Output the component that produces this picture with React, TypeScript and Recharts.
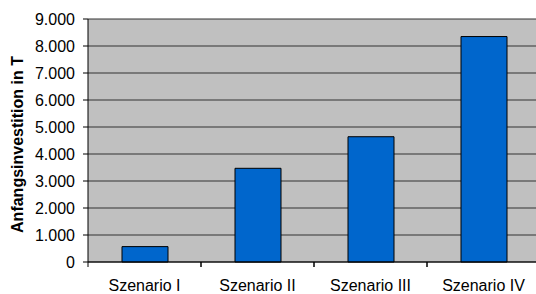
import { BarChart, Bar, XAxis, YAxis, CartesianGrid, Label } from "recharts";

const szenarien = ["Szenario I", "Szenario II", "Szenario III", "Szenario IV"];
const investition = [570, 3470, 4640, 8350];
const yTicks = [0, 1000, 2000, 3000, 4000, 5000, 6000, 7000, 8000, 9000];

const chartData = szenarien.map((name, i) => ({ name, value: investition[i] }));

const CHART_W = 545;
const AXIS_W = 88;
const RIGHT = 5;
const FONT = "'Liberation Sans', Arial, sans-serif";

// German thousands separator: 9000 -> 9.000
const fmt = (v: number) => String(v).replace(/\B(?=(\d{3})+(?!\d))/g, ".");

function CategoryTick(props: any) {
  const { x, y, payload } = props;
  const band = (CHART_W - AXIS_W - RIGHT) / szenarien.length;
  const axisY = 262;
  return (
    <g>
      {/* Excel style: tick marks sit between categories */}
      <line x1={x - band / 2} x2={x - band / 2} y1={axisY} y2={axisY + 5} stroke="#000" />
      <line x1={x + band / 2} x2={x + band / 2} y1={axisY} y2={axisY + 5} stroke="#000" />
      <text x={x} y={axisY + 29} textAnchor="middle" fontSize={16} fontFamily={FONT} fill="#000">
        {payload.value}
      </text>
    </g>
  );
}

export default function App() {
  return (
    <div style={{ position: "absolute", left: 0, top: 0, width: 536, height: 294, overflow: "hidden", background: "#fff" }}>
      <BarChart
        width={CHART_W}
        height={294}
        data={chartData}
        margin={{ top: 19, right: RIGHT, left: 0, bottom: 0 }}
      >
        <CartesianGrid fill="#c0c0c0" stroke="#333" vertical={false} fillOpacity={1} />
        <XAxis
          dataKey="name"
          height={32}
          axisLine={{ stroke: "#000" }}
          tickLine={false}
          tick={<CategoryTick />}
          interval={0}
        />
        <YAxis
          width={AXIS_W}
          domain={[0, 9000]}
          ticks={yTicks}
          interval={0}
          tickFormatter={fmt}
          axisLine={{ stroke: "#000" }}
          tickLine={{ stroke: "#000" }}
          tickSize={5}
          tickMargin={8}
          tick={{ fill: "#000", fontSize: 16, fontFamily: FONT }}
        >
          <Label
            content={(p: any) => {
              const vb = p.viewBox;
              return (
                <text
                  x={17}
                  y={vb.y + vb.height / 2 + 4}
                  transform={`rotate(-90, 17, ${vb.y + vb.height / 2 + 4})`}
                  textAnchor="middle"
                  dominantBaseline="central"
                  fontSize={16}
                  fontWeight="bold"
                  fontFamily={FONT}
                  fill="#000"
                >
                  Anfangsinvestition in T
                </text>
              );
            }}
          />
        </YAxis>
        <Bar dataKey="value" fill="#0066cc" stroke="#000" strokeWidth={1} barSize={46} isAnimationActive={false} />
      </BarChart>
    </div>
  );
}
